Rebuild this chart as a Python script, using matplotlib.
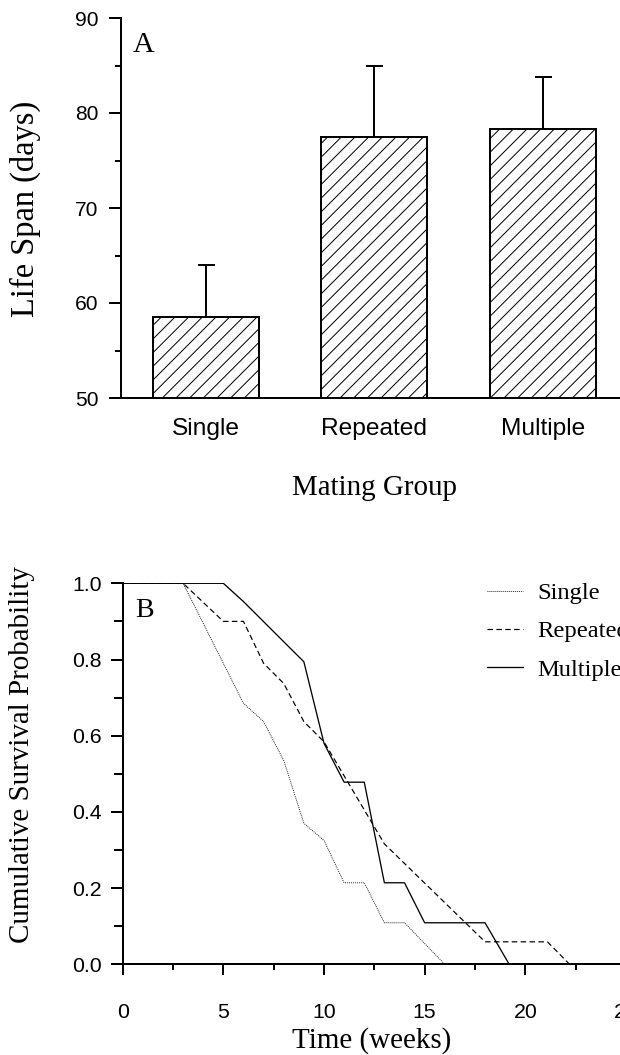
import matplotlib
matplotlib.use('Agg')
import matplotlib.pyplot as plt
import numpy as np

# --- data ---
groups = ['Single', 'Repeated', 'Multiple']
life_mean = [58.5, 77.5, 78.3]
life_err = [5.5, 7.4, 5.5]

weeks_single = [0, 3, 6, 7, 8, 9, 10, 11, 12, 13, 14, 16]
surv_single = [1.0, 1.0, 0.685, 0.637, 0.535, 0.37, 0.325, 0.214, 0.214, 0.109, 0.109, 0.0]

weeks_repeated = [0, 3, 5, 6, 7, 8, 9, 10, 13, 18, 21.1, 22.2, 23.5]
surv_repeated = [1.0, 1.0, 0.9, 0.9, 0.79, 0.737, 0.637, 0.584, 0.316, 0.059, 0.059, 0.0, 0.0]

weeks_multiple = [0, 5, 6, 9, 10, 11, 12, 13, 14, 15, 18, 19.2]
surv_multiple = [1.0, 1.0, 0.952, 0.794, 0.58, 0.478, 0.478, 0.214, 0.214, 0.109, 0.109, 0.0]

# --- sizes ---
DPI = 82
W, H = 620, 1055


def px(v):
    # pixels -> points
    return v * 72 / DPI


SANS = 'Liberation Sans'
SERIF = 'Liberation Serif'
LABEL_FONT = px(29)
LW = px(2)

plt.rcParams['hatch.linewidth'] = px(1.0)

fig = plt.figure(figsize=(W / DPI, H / DPI), dpi=DPI)

# === Panel A: bar chart ===
ax1 = fig.add_axes([121.5 / W, 1 - 398 / H, (627 - 121.5) / W, 380 / H])
x = np.arange(len(groups))
ax1.bar(x, life_mean, width=0.63, color='white', edgecolor='black',
        linewidth=LW, hatch='//', zorder=2)
ax1.errorbar(x, life_mean, yerr=[np.zeros(len(groups)), life_err], fmt='none',
             ecolor='black', elinewidth=LW, capsize=px(8.5), capthick=LW, zorder=3)
ax1.set_xlim(-0.5, 2.5)
ax1.set_ylim(50, 90)
ax1.set_yticks([50, 60, 70, 80, 90])
ax1.set_yticks([55, 65, 75, 85], minor=True)
ax1.set_xticks(x)
ax1.set_xticklabels(groups, fontfamily=SANS, fontsize=px(24.5))
ax1.tick_params(axis='x', length=0, pad=px(20))
ax1.tick_params(axis='y', which='major', length=px(12), width=LW, pad=px(11),
                labelsize=px(21))
ax1.tick_params(axis='y', which='minor', length=px(6), width=LW)
for lab in ax1.get_yticklabels():
    lab.set_fontfamily(SANS)
for s in ['top', 'right']:
    ax1.spines[s].set_visible(False)
for s in ['left', 'bottom']:
    ax1.spines[s].set_linewidth(LW)
ax1.text(133 / W, 1 - 52 / H, 'A', transform=fig.transFigure, fontfamily=SERIF,
         fontsize=px(30), ha='left', va='baseline')
fig.text(25 / W, 1 - 209 / H, 'Life Span (days)', rotation=90, ha='center',
         va='center', fontfamily=SERIF, fontsize=px(32.5))
fig.text(375 / W, 1 - 488 / H, 'Mating Group', ha='center', va='center',
         fontfamily=SERIF, fontsize=LABEL_FONT)

# === Panel B: survival curves ===
ax2 = fig.add_axes([122.7 / W, 1 - 964.3 / H, 26 * 20.13 / W, 381 / H])
ax2.plot(weeks_single, surv_single, color='black', linewidth=px(0.9),
         linestyle=(0, (1, 1.2)), label='Single')
ax2.plot(weeks_repeated, surv_repeated, color='black', linewidth=px(1.2),
         linestyle=(0, (4.6, 2.8)), label='Repeated')
ax2.plot(weeks_multiple, surv_multiple, color='black', linewidth=px(1.3),
         linestyle='-', label='Multiple')
ax2.set_xlim(0, 26)
ax2.set_ylim(0, 1)
ax2.set_xticks([0, 5, 10, 15, 20, 25])
ax2.set_xticks([2.5, 7.5, 12.5, 17.5, 22.5], minor=True)
ax2.set_yticks([0, 0.2, 0.4, 0.6, 0.8, 1.0])
ax2.set_yticks([0.1, 0.3, 0.5, 0.7, 0.9], minor=True)
ax2.set_yticklabels(['0.0', '0.2', '0.4', '0.6', '0.8', '1.0'])
ax2.tick_params(axis='x', which='major', length=px(11), width=LW, pad=px(28),
                labelsize=px(21.3))
ax2.tick_params(axis='x', which='minor', length=px(6), width=LW)
ax2.tick_params(axis='y', which='major', length=px(12), width=LW, pad=px(9),
                labelsize=px(21.3))
ax2.tick_params(axis='y', which='minor', length=px(9), width=LW)
for lab in ax2.get_xticklabels() + ax2.get_yticklabels():
    lab.set_fontfamily(SANS)
for s in ['top', 'right']:
    ax2.spines[s].set_visible(False)
for s in ['left', 'bottom']:
    ax2.spines[s].set_linewidth(LW)
fig.text(135 / W, 1 - 617 / H, 'B', fontfamily=SERIF, fontsize=px(28),
         ha='left', va='baseline')
fig.text(22 / W, 1 - 755 / H, 'Cumulative Survival Probability', rotation=90,
         ha='center', va='center', fontfamily=SERIF, fontsize=LABEL_FONT)
fig.text(372 / W, 1 - 1041 / H, 'Time (weeks)', ha='center', va='center',
         fontfamily=SERIF, fontsize=LABEL_FONT)

leg = ax2.legend(loc='upper left', bbox_to_anchor=(487 / W, 1 - 582 / H),
                 bbox_transform=fig.transFigure, frameon=False, borderpad=0,
                 borderaxespad=0, handlelength=1.45, handletextpad=0.6,
                 labelspacing=0.66, prop={'family': SERIF, 'size': px(24.5)})

fig.savefig('out.png', dpi=DPI)
